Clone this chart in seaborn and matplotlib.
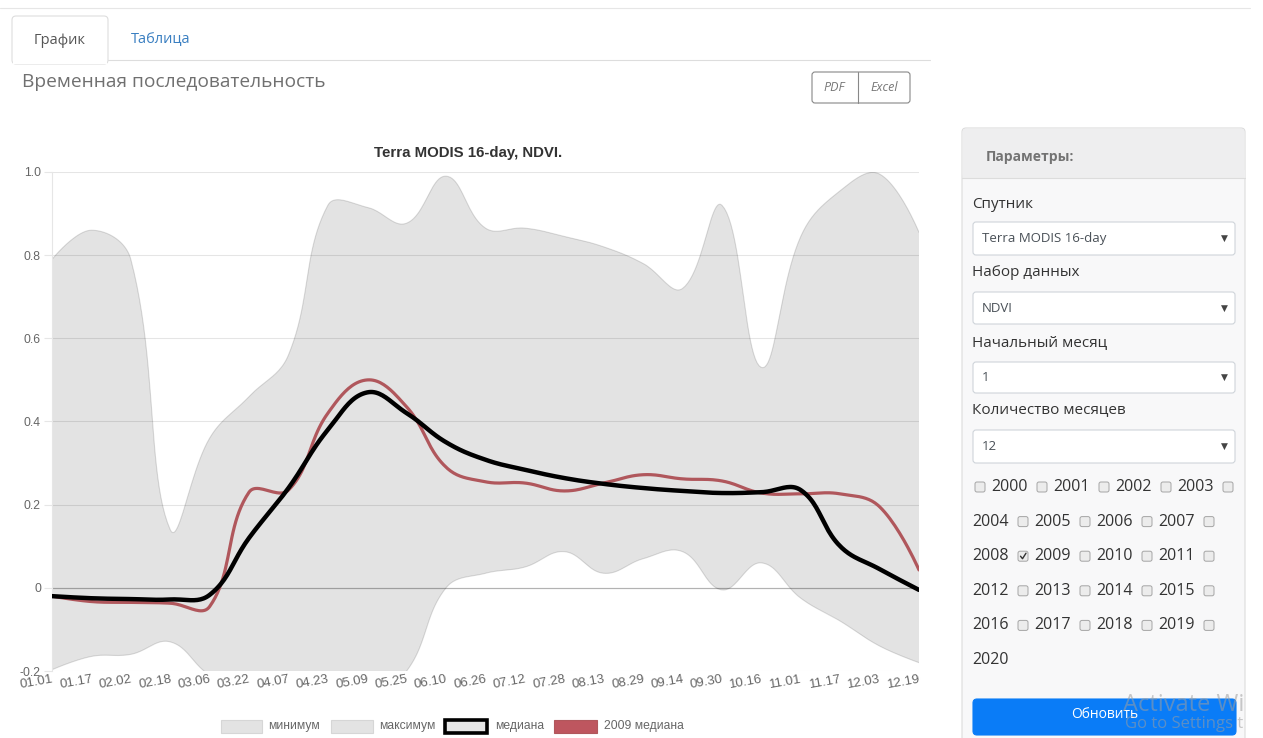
import numpy as np
import pandas as pd
import matplotlib
matplotlib.use("Agg")
import matplotlib.pyplot as plt
from matplotlib.patches import FancyBboxPatch, Rectangle
from matplotlib.lines import Line2D
from matplotlib.transforms import Affine2D
import seaborn as sns

# --- данные ---
dates = ["01.01", "01.17", "02.02", "02.18", "03.06", "03.22", "04.07", "04.23",
         "05.09", "05.25", "06.10", "06.26", "07.12", "07.28", "08.13", "08.29",
         "09.14", "09.30", "10.16", "11.01", "11.17", "12.03", "12.19"]
ndvi_max = [0.79, 0.86, 0.79, 0.14, 0.36, 0.46, 0.56, 0.92, 0.915, 0.877, 0.99, 0.865,
            0.865, 0.845, 0.82, 0.78, 0.72, 0.92, 0.53, 0.845, 0.955, 0.995, 0.855]
ndvi_min = [-0.197, -0.165, -0.16, -0.13, -0.21, -0.25, -0.25, -0.25, -0.25, -0.2, 0.0,
            0.035, 0.05, 0.087, 0.035, 0.07, 0.087, -0.005, 0.06, -0.025, -0.08, -0.14, -0.18]
ndvi_median = [-0.02, -0.025, -0.027, -0.028, -0.017, 0.12, 0.24, 0.38, 0.47, 0.42, 0.35,
               0.308, 0.284, 0.264, 0.25, 0.24, 0.233, 0.228, 0.23, 0.235, 0.10, 0.045, -0.005]
ndvi_2009 = [-0.02, -0.033, -0.035, -0.037, -0.045, 0.23, 0.235, 0.42, 0.50, 0.435, 0.29,
             0.255, 0.252, 0.233, 0.252, 0.272, 0.262, 0.257, 0.228, 0.226, 0.226, 0.195, 0.043]
y_ticks = [-0.2, 0, 0.2, 0.4, 0.6, 0.8, 1.0]
y_tick_labels = ["-0.2", "0", "0.2", "0.4", "0.6", "0.8", "1.0"]
legend_labels = ["минимум", "максимум", "медиана", "2009 медиана"]
years = list(range(2000, 2021))
checked_year = 2009

W, H = 1263, 738
CHART_FONT = ["Liberation Sans", "DejaVu Sans"]
PAGE_FONT = ["Open Sans", "DejaVu Sans"]


def smooth(values, tension=0.4, steps=24, sx=39.4, sy=416.0):
    """кривая Безье как в Chart.js (tension 0.4)"""
    pts = np.column_stack([np.arange(len(values)) * sx, np.asarray(values, float) * sy])
    n = len(pts)
    cp_prev, cp_next = pts.copy(), pts.copy()
    for i in range(1, n - 1):
        p0, p1, p2 = pts[i - 1], pts[i], pts[i + 1]
        d01 = np.hypot(*(p1 - p0))
        d12 = np.hypot(*(p2 - p1))
        s01 = d01 / (d01 + d12)
        s12 = d12 / (d01 + d12)
        cp_prev[i] = p1 - tension * s01 * (p2 - p0)
        cp_next[i] = p1 + tension * s12 * (p2 - p0)
    t = np.linspace(0, 1, steps)[:, None]
    segs = []
    for i in range(n - 1):
        a, b, c, d = pts[i], cp_next[i], cp_prev[i + 1], pts[i + 1]
        seg = (1 - t) ** 3 * a + 3 * (1 - t) ** 2 * t * b + 3 * (1 - t) * t ** 2 * c + t ** 3 * d
        segs.append(seg if i == 0 else seg[1:])
    out = np.vstack(segs)
    return out[:, 0] / sx, out[:, 1] / sy


sns.set_theme(style="white")
plt.rcParams["font.family"] = CHART_FONT

fig = plt.figure(figsize=(W / 100, H / 100), dpi=100, facecolor="white")
# пиксельные координаты страницы (y вниз)
pix = Affine2D().scale(1, -1).translate(0, H) + Affine2D().scale(1 / W, 1 / H) + fig.transFigure


def box(x0, y0, x1, y1, fc, ec, lw=0.8, r=4, z=1, **kw):
    p = FancyBboxPatch((x0, y0), x1 - x0, y1 - y0, boxstyle=f"round,pad=0,rounding_size={r}",
                       transform=pix, fc=fc, ec=ec, lw=lw, zorder=z, **kw)
    fig.add_artist(p)
    return p


def txt(x, y, s, **kw):
    kw.setdefault("family", PAGE_FONT)
    kw.setdefault("va", "center")
    fig.text(x, y, s, transform=pix, **kw)


def hline(x0, x1, y, color, lw=0.8):
    fig.add_artist(Line2D([x0, x1], [y, y], transform=pix, color=color, lw=lw))


# --- вкладки и заголовок ---
hline(0, 1250, 8, "#e6e6e6")
hline(108, 930, 60, "#dddddd")
box(12, 16, 108, 64, "white", "#dddddd", r=4)
fig.add_artist(Rectangle((13, 59), 94, 5, transform=pix, fc="white", ec="none", zorder=2))
txt(60, 40, "График", ha="center", fontsize=10.5, color="#555555", zorder=3)
txt(161, 40, "Таблица", ha="center", fontsize=10.5, color="#3a7fc1")
txt(22, 82, "Временная последовательность", fontsize=13.8, color="#707070")
box(812, 72, 910, 103, "white", "#888888", lw=0.8, r=3)
fig.add_artist(Line2D([858, 858], [72, 103], transform=pix, color="#888888", lw=0.8))
txt(834, 87.5, "PDF", ha="center", fontsize=9, style="italic", color="#777777")
txt(884, 87.5, "Excel", ha="center", fontsize=9, style="italic", color="#777777")

# --- график ---
ax = fig.add_axes([52 / W, 1 - 671 / H, (919 - 52) / W, (671 - 172) / H])
ax.set_facecolor("white")

x_max, y_max = smooth(ndvi_max)
x_min, y_min = smooth(ndvi_min)
ax.fill(np.r_[x_max, x_min[::-1]], np.r_[y_max, y_min[::-1]], color="black", alpha=0.11,
        lw=0, zorder=2)
ax.plot(x_max, y_max, color="black", alpha=0.13, lw=0.8, zorder=2)
ax.plot(x_min, y_min, color="black", alpha=0.13, lw=0.8, zorder=2)

x_med, y_med = smooth(ndvi_median)
x_09, y_09 = smooth(ndvi_2009)
df_med = pd.DataFrame({"x": x_med, "y": y_med})
df_09 = pd.DataFrame({"x": x_09, "y": y_09})
sns.lineplot(data=df_09, x="x", y="y", ax=ax, color="#b0575c", lw=2.3, sort=False,
             estimator=None, zorder=4)
sns.lineplot(data=df_med, x="x", y="y", ax=ax, color="black", lw=3.2, sort=False,
             estimator=None, zorder=5)

ax.set_xlim(0, len(dates) - 1)
ax.set_ylim(-0.2, 1.0)
ax.set_yticks(y_ticks)
ax.set_yticklabels(y_tick_labels)
ax.set_xticks(range(len(dates)))
ax.set_xticklabels(dates, rotation=10, ha="right", va="top", rotation_mode="anchor")
ax.set_xlabel("")
ax.set_ylabel("")
ax.yaxis.grid(True, color="black", alpha=0.1, lw=0.8, zorder=1)
ax.xaxis.grid(False)
ax.axhline(0, color="black", alpha=0.22, lw=0.9, zorder=1)
ax.set_axisbelow(True)
for s in ["top", "right", "bottom"]:
    ax.spines[s].set_visible(False)
ax.spines["left"].set_color("#e6e6e6")
ax.spines["left"].set_linewidth(0.8)
ax.tick_params(axis="y", length=6, width=0.8, color="#e6e6e6", pad=2,
               labelsize=8.7, labelcolor="#666666", left=True)
ax.tick_params(axis="x", length=0, pad=1.5, labelsize=9.5, labelcolor="#666666", bottom=True)

fig.text(468 / W, 1 - 153 / H, "Terra MODIS 16-day, NDVI.", ha="center", va="center",
         fontsize=10.8, fontweight="bold", color="#333333", family=CHART_FONT)

# --- легенда ---
legend_boxes = [(221, 262), (331, 373), (445, 487), (554, 597)]
legend_text_x = [268, 379, 495, 604]
for i, (label, (x0, x1), tx) in enumerate(zip(legend_labels, legend_boxes, legend_text_x)):
    if i < 2:
        fc, ec, lw = "#e3e3e3", "#d6d6d6", 0.8
    elif i == 2:
        fc, ec, lw = "#e6e6e6", "black", 2.6
    else:
        fc, ec, lw = "#be565f", "#b0575c", 0.8
    fig.add_artist(Rectangle((x0, 720), x1 - x0, 13, transform=pix, fc=fc, ec=ec, lw=lw))
    txt(tx, 726.5, label, fontsize=8.7, color="#666666", family=CHART_FONT)

# --- панель параметров ---
box(962, 128, 1245, 800, "#f8f8f9", "#dcdcdc", r=4)
box(962.5, 128.5, 1244.5, 178, "#eeeeef", "none", r=4)
fig.add_artist(Rectangle((962.5, 170), 282, 8, transform=pix, fc="#eeeeef", ec="none"))
hline(962, 1245, 178, "#dcdcdc")
txt(986, 157, "Параметры:", fontsize=10, fontweight="bold", color="#737373")

fields = [("Спутник", 205, "Terra MODIS 16-day", 222, 255),
          ("Набор данных", 272, "NDVI", 292, 324),
          ("Начальный месяц", 343, "1", 362, 393),
          ("Количество месяцев", 410, "12", 430, 463)]
for label, ly, value, y0, y1 in fields:
    txt(972, ly, label, fontsize=11, color="#333333")
    box(973, y0, 1235, y1, "white", "#cfd4da", lw=0.8, r=3)
    txt(982, (y0 + y1) / 2, value, fontsize=9.5, color="#495057")
    txt(1224, (y0 + y1) / 2, "▼", ha="center", fontsize=6.5, color="#444444",
        family=["DejaVu Sans"])

row_y0, row_step = 487, 34.6
row = 0
x = 975
for yr in years:
    yc = row_y0 + row * row_step
    box(x, yc - 5, x + 10, yc + 5, "#ececec", "#a5a5a5", lw=0.7, r=2)
    if yr == checked_year:
        fig.add_artist(Line2D([x + 2.5, x + 4.5, x + 8], [yc, yc + 2.5, yc - 3], transform=pix,
                              color="#333333", lw=1.0))
    x += 16
    if x + 37 > 1240:
        row += 1
        x = 972
        yc = row_y0 + row * row_step
    txt(x, yc, str(yr), fontsize=11.5, color="#333333")
    x += 46

box(973, 699, 1236, 735, "#0a7cf7", "#0a7cf7", r=4)
txt(1105, 714, "Обновить", ha="center", fontsize=10, color="white")

# водяной знак Windows (обрезан краем, как на скриншоте)
txt(1123, 705, "Activate Wi", fontsize=17, color=(0.62, 0.62, 0.62, 0.55))
txt(1125, 724, "Go to Settings t", fontsize=12, color=(0.62, 0.62, 0.62, 0.55))

fig.savefig("out.png", dpi=100, facecolor="white")
